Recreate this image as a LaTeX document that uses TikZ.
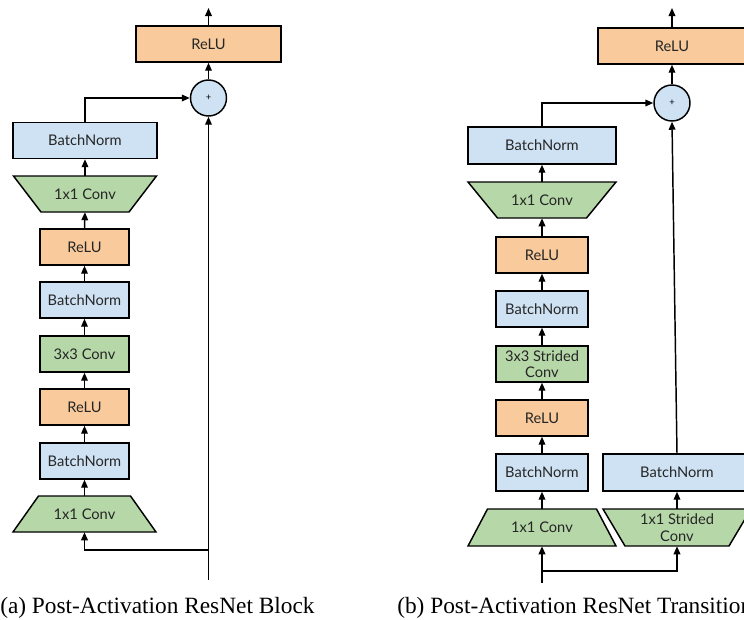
\documentclass[tikz,border=0pt]{standalone}
\usepackage{fontspec}
\setmainfont{Liberation Serif}
\newfontfamily\boxfont{Lato}
\usetikzlibrary{arrows.meta,shapes.geometric}
\definecolor{reluC}{HTML}{F9CB9C}
\definecolor{bnC}{HTML}{CFE2F3}
\definecolor{convC}{HTML}{B6D7A8}
% trapezoid: name, cx, cy, top width, bottom width, height (px), text
\newcommand{\traptz}[7]{%
  \filldraw[fill=convC, draw=black, line width=1.1pt, line join=miter]
    ({#2-(#4)/2},{#3-(#6)/2}) -- ({#2+(#4)/2},{#3-(#6)/2}) --
    ({#2+(#5)/2},{#3+(#6)/2}) -- ({#2-(#5)/2},{#3+(#6)/2}) -- cycle;
  \node[traplabel, minimum height={(#6)*0.75pt}] (#1) at (#2,#3) {#7};}
\begin{document}
\begin{tikzpicture}[x=0.75pt,y=-0.75pt,
  blk/.style={draw=black, line width=1.1pt, minimum height=27pt, inner sep=1pt,
    font=\boxfont\fontsize{11}{12.5}\selectfont, align=center, text=black!85},
  relubox/.style={blk, fill=reluC},
  bnbox/.style={blk, fill=bnC},
  convbox/.style={blk, fill=convC},
  traplabel/.style={inner sep=1pt, font=\boxfont\fontsize{11}{12.5}\selectfont,
    align=center, text=black!85},
  plusnode/.style={circle, draw=black, line width=1.1pt, fill=bnC, minimum size=27pt,
    inner sep=0pt, font=\boxfont\fontsize{7}{7}\selectfont},
  arr/.style={-{Triangle[length=6pt,width=5pt]}, line width=1.1pt},
  caption/.style={anchor=base west, inner sep=0pt, font=\fontsize{17.5}{20}\selectfont}]
\useasboundingbox (0,0) rectangle (744,619);

% ---------- panel (a) ----------
\node[relubox, minimum width=108.75pt] (aR) at (208.5,44) {ReLU};
\node[plusnode] (aP) at (208.5,98) {+};
\node[bnbox, minimum width=108pt] (aB6) at (85,140.5) {BatchNorm};
\traptz{aC3}{85}{194}{143}{88}{36}{1x1 Conv}
\node[relubox, minimum width=66.75pt] (aR2) at (84.5,247) {ReLU};
\node[bnbox, minimum width=66.75pt] (aB2) at (84.5,300) {BatchNorm};
\node[convbox, minimum width=66.75pt] (aC2) at (84.5,354) {3x3 Conv};
\node[relubox, minimum width=66.75pt] (aR1) at (84.5,407) {ReLU};
\node[bnbox, minimum width=66.75pt] (aB1) at (84.5,461) {BatchNorm};
\traptz{aC1}{84.5}{514}{92}{143}{36}{1x1 Conv}
\coordinate (aIn) at (208.5,580);
\coordinate (aSplit) at (208.5,550);
\coordinate (aOut) at (208.5,8);

\draw[arr] (aIn) -- (aP.south);
\draw[arr] (aSplit) -| (aC1.south);
\draw[arr] (aC1.north) -- (aB1.south);
\draw[arr] (aB1.north) -- (aR1.south);
\draw[arr] (aR1.north) -- (aC2.south);
\draw[arr] (aC2.north) -- (aB2.south);
\draw[arr] (aB2.north) -- (aR2.south);
\draw[arr] (aR2.north) -- (aC3.south);
\draw[arr] (aC3.north) -- (aB6.south);
\draw[arr] (aB6.north) |- (aP.west);
\draw[arr] (aP.north) -- (aR.south);
\draw[arr] (aR.north) -- (aOut);

% ---------- panel (b) ----------
\node[relubox, minimum width=111pt] (bR) at (672,46) {ReLU};
\node[plusnode] (bP) at (672,103) {+};
\node[bnbox, minimum width=111pt, minimum height=27.75pt] (bB6) at (542,145.5) {BatchNorm};
\traptz{bC3}{542}{200}{148}{89}{36}{1x1 Conv}
\node[relubox, minimum width=69pt] (bR2) at (542,255) {ReLU};
\node[bnbox, minimum width=69pt] (bB2) at (542,309) {BatchNorm};
\node[convbox, minimum width=69pt] (bC2) at (542,364) {3x3 Strided\\Conv};
\node[relubox, minimum width=69pt] (bR1) at (542,418) {ReLU};
\node[bnbox, minimum width=69pt, minimum height=27.75pt] (bB1) at (542,472.5) {BatchNorm};
\traptz{bC1}{542}{527.5}{109}{148}{37}{1x1 Conv}
\node[bnbox, minimum width=111pt, minimum height=27.75pt] (bBs) at (677,472.5) {BatchNorm};
\traptz{bCs}{677}{527.5}{148}{104}{37}{1x1 Strided\\Conv}
\coordinate (bIn) at (542,583);
\coordinate (bSplit) at (542,571);
\coordinate (bOut) at (672,8);

\draw[arr] (bIn) -- (bC1.south);
\draw[arr] (bSplit) -| (bCs.south);
\draw[arr] (bCs.north) -- (bBs.south);
\draw[arr] (bBs.north) -- (bP.south);
\draw[arr] (bC1.north) -- (bB1.south);
\draw[arr] (bB1.north) -- (bR1.south);
\draw[arr] (bR1.north) -- (bC2.south);
\draw[arr] (bC2.north) -- (bB2.south);
\draw[arr] (bB2.north) -- (bR2.south);
\draw[arr] (bR2.north) -- (bC3.south);
\draw[arr] (bC3.north) -- (bB6.south);
\draw[arr] (bB6.north) |- (bP.west);
\draw[arr] (bP.north) -- (bR.south);
\draw[arr] (bR.north) -- (bOut);

% ---------- captions ----------
\node[caption] (capA) at (0,613) {(a) Post-Activation ResNet Block};
\node[caption] (capB) at (397,613) {(b) Post-Activation ResNet Transition};
\end{tikzpicture}
\end{document}
